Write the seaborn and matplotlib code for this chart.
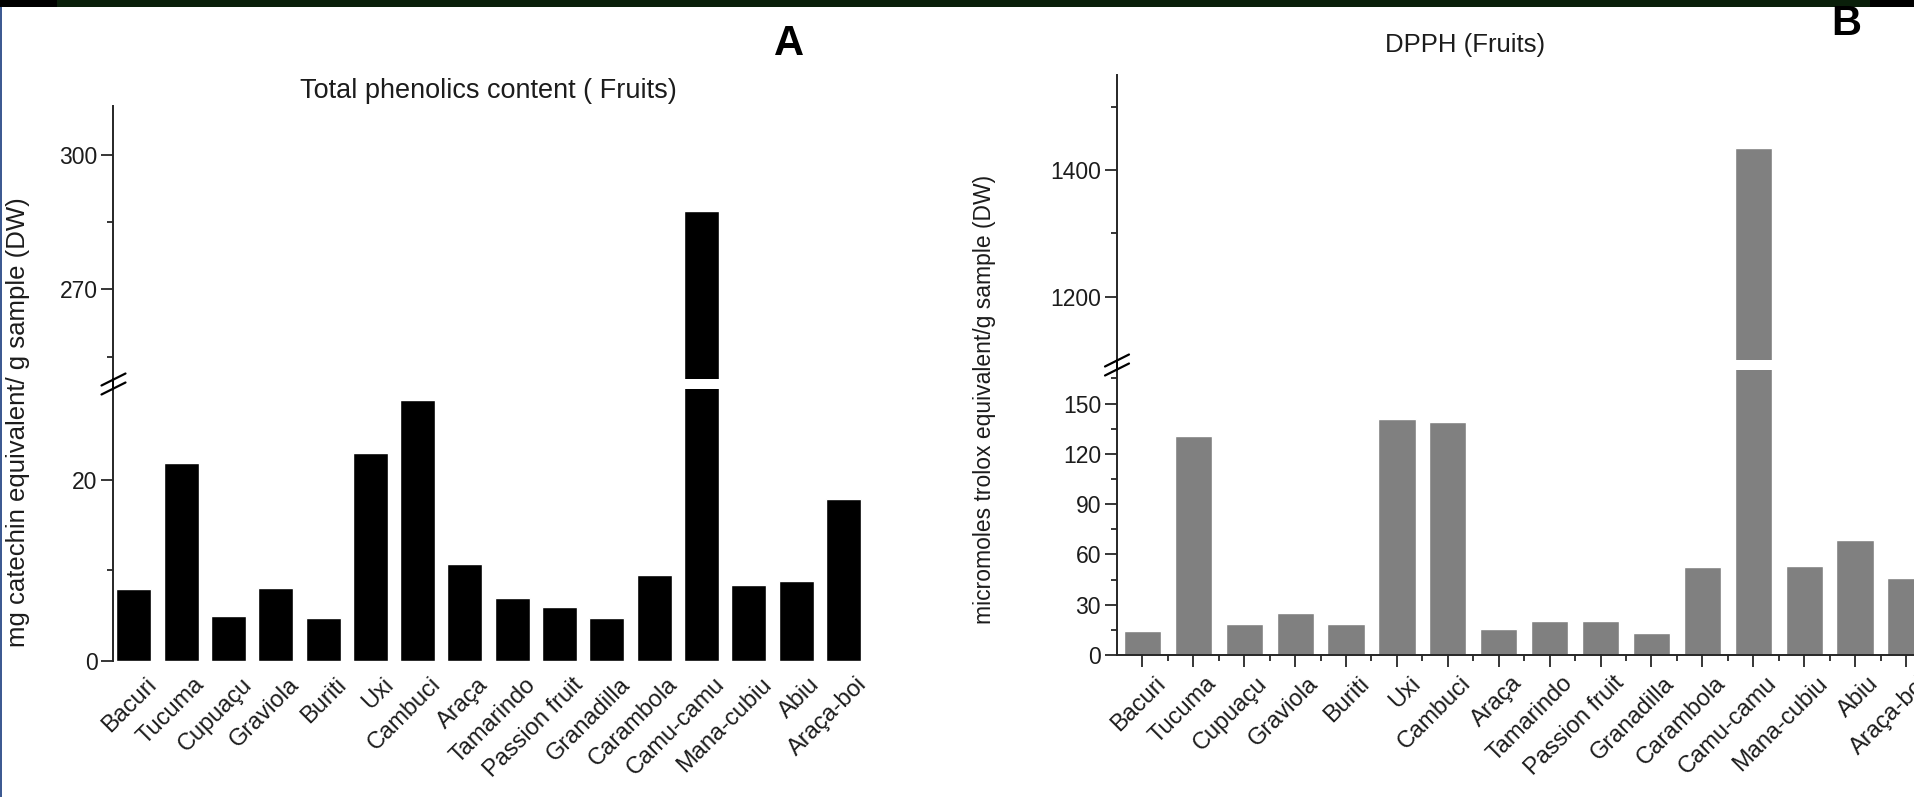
import numpy as np
import pandas as pd
import matplotlib.pyplot as plt
import seaborn as sns
from matplotlib.lines import Line2D
from matplotlib.patches import Rectangle
from matplotlib.ticker import FixedLocator
import matplotlib.transforms as mtransforms

# data
fruits = ["Bacuri", "Tucuma", "Cupuaçu", "Graviola", "Buriti", "Uxi", "Cambuci",
          "Araça", "Tamarindo", "Passion fruit", "Granadilla", "Carambola",
          "Camu-camu", "Mana-cubiu", "Abiu", "Araça-boi"]
phenolics = [7.9, 21.8, 5.0, 8.1, 4.7, 22.9, 28.8, 10.7, 6.9, 6.0, 4.7, 9.5,
             287.6, 8.4, 8.8, 17.9]
dpph = [14.5, 130.5, 18.3, 25.3, 18.3, 140.8, 138.8, 15.3, 20.5, 20.5, 12.9,
        52.2, 1435, 53.2, 68.3, 46.0]

df = pd.DataFrame({"fruit": fruits, "phenolics": phenolics, "dpph": dpph})

sns.set_style("ticks")
plt.rcParams["font.family"] = ["Liberation Sans", "DejaVu Sans"]
plt.rcParams["axes.linewidth"] = 1.4

W, H = 1915, 797
fig = plt.figure(figsize=(W / 100, H / 100), dpi=100)
fig.patch.set_facecolor("white")
txt = "#1c1c1c"


def add_ax(left, top, right, bottom):
    return fig.add_axes([left / W, 1 - bottom / H, (right - left) / W, (bottom - top) / H])


def fig_line(x0, y0, x1, y1, **kw):
    fig.add_artist(Line2D([x0 / W, x1 / W], [1 - y0 / H, 1 - y1 / H],
                          transform=fig.transFigure, **kw))


def style_y(ax, major, minor):
    ax.yaxis.set_major_locator(FixedLocator(major))
    ax.yaxis.set_minor_locator(FixedLocator(minor))
    ax.tick_params(axis="y", which="major", direction="out", length=8.5, width=1.3,
                   labelsize=16.5, labelcolor=txt, pad=3)
    ax.tick_params(axis="y", which="minor", direction="out", length=4, width=1.3)
    ax.set_xlabel("")
    ax.set_ylabel("")
    ax.set_facecolor("none")


def rotate_labels(ax):
    for lab in ax.get_xticklabels():
        lab.set_rotation(45)
        lab.set_ha("right")
        lab.set_rotation_mode("anchor")
        lab.set_transform(lab.get_transform() +
                          mtransforms.ScaledTranslation(0.12, 0, fig.dpi_scale_trans))


# ---------- panel A ----------
a_left, a_right = 113.5, 867
axA_up = add_ax(a_left, 106, a_right, 379)
axA_lo = add_ax(a_left, 389, a_right, 661)
for ax, lim in [(axA_up, (250, 311)), (axA_lo, (0, 30))]:
    sns.barplot(data=df, x="fruit", y="phenolics", color="black", saturation=1,
                width=0.74, ax=ax)
    ax.set_xlim(-0.43, 15.5)
    ax.set_ylim(*lim)
    sns.despine(ax=ax, bottom=True)
style_y(axA_up, [270, 300], [255, 285])
style_y(axA_lo, [0, 20], [10])
axA_up.tick_params(axis="x", bottom=False, labelbottom=False)
axA_lo.tick_params(axis="x", length=0, labelsize=17, labelcolor=txt, pad=9)
rotate_labels(axA_lo)

# ---------- panel B ----------
b_left = 1117
b_right = b_left + 16 * 50.9
axB_up = add_ax(b_left, 75, b_right, 360)
axB_lo = add_ax(b_left, 370, b_right, 655)
for ax, lim in [(axB_up, (1100, 1550)), (axB_lo, (0, 170))]:
    sns.barplot(data=df, x="fruit", y="dpph", color="#808080", saturation=1,
                width=0.73, ax=ax)
    ax.set_xlim(-0.5, 15.5)
    ax.set_ylim(*lim)
style_y(axB_up, [1200, 1400], [1300, 1500])
style_y(axB_lo, list(range(0, 151, 30)), list(range(15, 170, 30)))
sns.despine(ax=axB_up, bottom=True)
sns.despine(ax=axB_lo)
axB_up.tick_params(axis="x", bottom=False, labelbottom=False)
axB_lo.xaxis.set_minor_locator(FixedLocator(np.arange(0.5, 15.6, 1)))
axB_lo.tick_params(axis="x", which="major", direction="out", length=8.5, width=1.3,
                   labelsize=17, labelcolor=txt, pad=4)
axB_lo.tick_params(axis="x", which="minor", direction="out", length=4, width=1.3)
rotate_labels(axB_lo)

# axis breaks: join the spines and draw the double slash
for x, y0, y1 in [(a_left, 379, 389), (b_left, 360, 370)]:
    fig_line(x, y0, x, y1, color="black", lw=1.4)
    yc = (y0 + y1) / 2
    for dy in (-4.5, 4.5):
        fig_line(x - 12, yc + dy + 6, x + 12, yc + dy - 6, color="black", lw=1.6)

# titles, panel letters and y labels
fig.text(488 / W, 1 - 91 / H, "Total phenolics content ( Fruits)", ha="center",
         va="center", fontsize=19.5, color=txt)
fig.text(1465 / W, 1 - 45 / H, "DPPH (Fruits)", ha="center", va="center",
         fontsize=18.5, color=txt)
fig.text(789 / W, 1 - 44 / H, "A", ha="center", va="center", fontsize=30,
         fontweight="bold", color="black")
fig.text(1846 / W, 1 - 24 / H, "B", ha="center", va="center", fontsize=30,
         fontweight="bold", color="black")
fig.text(18 / W, 1 - 422 / H, "mg catechin equivalent/ g sample (DW)", rotation=90,
         ha="center", va="center", fontsize=18.5, color=txt)
fig.text(985 / W, 1 - 399 / H, "micromoles trolox equivalent/g sample (DW)",
         rotation=90, ha="center", va="center", fontsize=16.5, color=txt)

# dark strip along the top and thin border on the left
fig.add_artist(Rectangle((0, 1 - 7 / H), 1, 7 / H, transform=fig.transFigure,
                         color="#0a1f0a", lw=0))
fig.add_artist(Rectangle((0, 1 - 7 / H), 57 / W, 7 / H, transform=fig.transFigure,
                         color="black", lw=0))
fig.add_artist(Rectangle((1870 / W, 1 - 7 / H), 45 / W, 7 / H,
                         transform=fig.transFigure, color="black", lw=0))
fig.add_artist(Rectangle((0, 0), 2.5 / W, 1 - 7 / H, transform=fig.transFigure,
                         color="#3d5a92", lw=0))

fig.savefig("out.png", dpi=100)
